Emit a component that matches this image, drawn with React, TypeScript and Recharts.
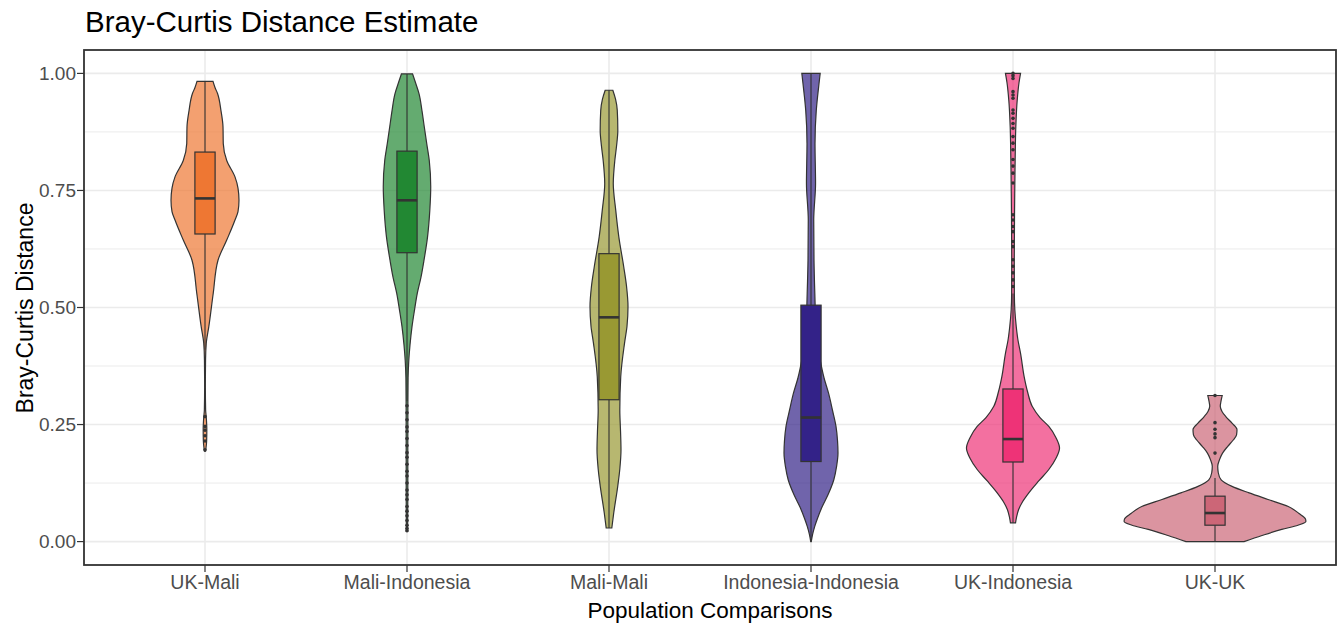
import React from "react";
import { ComposedChart, Bar, XAxis, YAxis, CartesianGrid, Curve } from "recharts";

const categories = [
  "UK-Mali",
  "Mali-Indonesia",
  "Mali-Mali",
  "Indonesia-Indonesia",
  "UK-Indonesia",
  "UK-UK",
];

const violinFill = ["#EE7733", "#228833", "#999933", "#332288", "#EE3377", "#CC6677"];
const boxFill = ["#EE7733", "#228833", "#999933", "#332288", "#EE3377", "#CC6677"];

// violin outlines: distance (top to bottom) and density relative to the widest violin
const ukMaliY = [0.983, 0.97, 0.957, 0.92, 0.886, 0.85, 0.814, 0.779, 0.755, 0.729, 0.705, 0.687, 0.644, 0.601, 0.531, 0.459, 0.424, 0.388, 0.33, 0.281, 0.265, 0.24, 0.215, 0.2, 0.193];
const ukMaliDensity = [0.088, 0.11, 0.138, 0.176, 0.198, 0.201, 0.239, 0.33, 0.363, 0.374, 0.363, 0.33, 0.239, 0.143, 0.091, 0.042, 0.014, 0.006, 0.004, 0.007, 0.014, 0.02, 0.018, 0.011, 0.006];

const maliIndonesiaY = [0.999, 0.98, 0.957, 0.92, 0.886, 0.85, 0.814, 0.758, 0.708, 0.651, 0.601, 0.565, 0.53, 0.495, 0.459, 0.42, 0.388, 0.35, 0.3, 0.2, 0.1, 0.022];
const maliIndonesiaDensity = [0.061, 0.094, 0.132, 0.165, 0.19, 0.217, 0.245, 0.261, 0.251, 0.226, 0.187, 0.154, 0.113, 0.083, 0.055, 0.033, 0.02, 0.012, 0.01, 0.009, 0.009, 0.007];

const maliMaliY = [0.964, 0.945, 0.921, 0.878, 0.845, 0.814, 0.765, 0.708, 0.651, 0.587, 0.545, 0.502, 0.46, 0.424, 0.352, 0.281, 0.235, 0.196, 0.155, 0.118, 0.061, 0.029];
const maliMaliDensity = [0.042, 0.072, 0.091, 0.097, 0.083, 0.064, 0.047, 0.074, 0.108, 0.162, 0.193, 0.209, 0.198, 0.171, 0.129, 0.119, 0.127, 0.132, 0.119, 0.096, 0.052, 0.031];

const indoIndoY = [1.0, 0.978, 0.95, 0.921, 0.85, 0.765, 0.687, 0.601, 0.53, 0.459, 0.42, 0.388, 0.35, 0.317, 0.28, 0.246, 0.215, 0.189, 0.16, 0.132, 0.1, 0.075, 0.05, 0.033, 0.015, 0.0];
const indoIndoDensity = [0.101, 0.088, 0.072, 0.058, 0.044, 0.05, 0.03, 0.033, 0.042, 0.055, 0.072, 0.101, 0.143, 0.193, 0.237, 0.275, 0.292, 0.297, 0.281, 0.251, 0.187, 0.124, 0.072, 0.042, 0.017, 0.003];

const ukIndonesiaY = [1.0, 0.98, 0.942, 0.886, 0.82, 0.744, 0.601, 0.53, 0.495, 0.459, 0.43, 0.402, 0.352, 0.32, 0.289, 0.265, 0.246, 0.222, 0.2, 0.178, 0.154, 0.13, 0.104, 0.085, 0.068, 0.052, 0.04];
const ukIndonesiaDensity = [0.083, 0.066, 0.046, 0.031, 0.024, 0.019, 0.014, 0.015, 0.02, 0.036, 0.055, 0.083, 0.123, 0.16, 0.211, 0.297, 0.394, 0.473, 0.512, 0.473, 0.394, 0.286, 0.174, 0.105, 0.061, 0.039, 0.028];

const ukUkY = [0.312, 0.3, 0.289, 0.278, 0.267, 0.253, 0.239, 0.228, 0.217, 0.203, 0.189, 0.175, 0.161, 0.147, 0.132, 0.118, 0.104, 0.09, 0.075, 0.06, 0.048, 0.043, 0.035, 0.026, 0.013, 0.0];
const ukUkDensity = [0.079, 0.066, 0.058, 0.077, 0.119, 0.187, 0.242, 0.237, 0.201, 0.138, 0.083, 0.05, 0.03, 0.036, 0.068, 0.187, 0.376, 0.583, 0.806, 0.924, 0.996, 1.0, 0.913, 0.734, 0.517, 0.319];

// box plot statistics, one per category
const q1 = [0.657, 0.617, 0.303, 0.171, 0.17, 0.035];
const medians = [0.733, 0.729, 0.479, 0.265, 0.219, 0.061];
const q3 = [0.832, 0.834, 0.615, 0.505, 0.326, 0.097];
const whiskerLow = [0.41, 0.3, 0.029, 0.0, 0.04, 0.0];
const whiskerHigh = [0.983, 0.999, 0.964, 1.0, 0.53, 0.136];

const ukMaliOutliers = [0.267, 0.246, 0.238, 0.226, 0.215, 0.196];
const maliIndonesiaOutliers = [0.29, 0.275, 0.26, 0.245, 0.235, 0.22, 0.205, 0.19, 0.18, 0.165, 0.15, 0.14, 0.125, 0.11, 0.1, 0.09, 0.075, 0.065, 0.055, 0.045, 0.035, 0.028, 0.023];
const maliMaliOutliers: number[] = [];
const indoIndoOutliers: number[] = [];
const ukIndonesiaOutliers = [1.0, 0.995, 0.989, 0.961, 0.954, 0.947, 0.922, 0.915, 0.904, 0.893, 0.883, 0.865, 0.851, 0.837, 0.816, 0.802, 0.787, 0.766, 0.698, 0.687, 0.673, 0.662, 0.641, 0.63, 0.602, 0.588, 0.574, 0.559, 0.545];
const ukUkOutliers = [0.312, 0.254, 0.24, 0.23, 0.222, 0.189];

const yTicks = [0, 0.25, 0.5, 0.75, 1];
const yMinorTicks = [0.125, 0.375, 0.625, 0.875];

const violinY = [ukMaliY, maliIndonesiaY, maliMaliY, indoIndoY, ukIndonesiaY, ukUkY];
const violinDensity = [ukMaliDensity, maliIndonesiaDensity, maliMaliDensity, indoIndoDensity, ukIndonesiaDensity, ukUkDensity];
const outliers = [ukMaliOutliers, maliIndonesiaOutliers, maliMaliOutliers, indoIndoOutliers, ukIndonesiaOutliers, ukUkOutliers];

const data = categories.map((name, i) => ({
  name,
  range: [Math.min(...violinY[i]), Math.max(...violinY[i])],
}));

const FONT = "'Liberation Sans', Arial, Helvetica, sans-serif";
const INK = "#333333";

// chart box
const W = 1338;
const H = 627;
const M = { top: 50, right: 2, bottom: 0, left: 0 };
const Y_AXIS_W = 84;
const X_AXIS_H = 62;

function renderViolin(props: any) {
  const { x, y, width, height } = props;
  let i = props.index;
  if (i == null) i = categories.indexOf(props.payload?.name);
  const vals = violinY[i];
  const dens = violinDensity[i];
  const vMax = Math.max(...vals);
  const vMin = Math.min(...vals);
  const top = Math.min(y, y + height);
  const span = Math.abs(height);
  const py = (v: number) => top + (span * (vMax - v)) / (vMax - vMin);
  const cx = x + width / 2;
  const maxHalf = width * 0.45;
  const boxHalf = width * 0.05;

  const right = vals.map((v, k) => ({ x: cx + dens[k] * maxHalf, y: py(v) }));
  const left = vals.map((v, k) => ({ x: cx - dens[k] * maxHalf, y: py(v) }));

  return (
    <g>
      <Curve
        layout="vertical"
        type="monotone"
        points={right}
        baseLine={left}
        fill={violinFill[i]}
        fillOpacity={0.7}
        stroke={INK}
        strokeWidth={1.2}
      />
      <line x1={cx} x2={cx} y1={py(whiskerHigh[i])} y2={py(q3[i])} stroke={INK} strokeWidth={1.1} />
      <line x1={cx} x2={cx} y1={py(q1[i])} y2={py(whiskerLow[i])} stroke={INK} strokeWidth={1.1} />
      <rect
        x={cx - boxHalf}
        y={py(q3[i])}
        width={boxHalf * 2}
        height={py(q1[i]) - py(q3[i])}
        fill={boxFill[i]}
        stroke={INK}
        strokeWidth={1.2}
      />
      <line x1={cx - boxHalf} x2={cx + boxHalf} y1={py(medians[i])} y2={py(medians[i])} stroke={INK} strokeWidth={2.6} />
      {outliers[i].map((v, k) => (
        <circle key={k} cx={cx} cy={py(v)} r={1.8} fill={INK} />
      ))}
    </g>
  );
}

export default function App() {
  const plotX = M.left + Y_AXIS_W;
  const plotY = M.top;
  const plotW = W - plotX - M.right;
  const plotH = H - M.top - M.bottom - X_AXIS_H;
  return (
    <div style={{ position: "absolute", left: 0, top: 0, width: W, height: H, background: "#fff" }}>
      <ComposedChart width={W} height={H} data={data} margin={M} barCategoryGap={0}>
        <CartesianGrid
          horizontal={true}
          vertical={false}
          horizontalValues={yMinorTicks}
          stroke="#EBEBEB"
          strokeWidth={1}
        />
        <CartesianGrid stroke="#EBEBEB" strokeWidth={1.6} />
        <XAxis
          dataKey="name"
          type="category"
          height={X_AXIS_H}
          padding={{ left: 20, right: 20 }}
          tickSize={7}
          tickMargin={3}
          tickLine={{ stroke: INK, strokeWidth: 1.2 }}
          axisLine={false}
          tick={{ fill: "#4D4D4D", fontSize: 19.5, fontFamily: FONT }}
          interval={0}
        />
        <YAxis
          type="number"
          domain={[-0.05, 1.05]}
          ticks={yTicks}
          width={Y_AXIS_W}
          tickSize={7}
          tickMargin={1}
          tickFormatter={(v: number) => v.toFixed(2)}
          tickLine={{ stroke: INK, strokeWidth: 1.2 }}
          axisLine={false}
          tick={{ fill: "#4D4D4D", fontSize: 19, fontFamily: FONT }}
          allowDataOverflow
        />
        <Bar dataKey="range" shape={renderViolin} isAnimationActive={false} fill="none" />
      </ComposedChart>
      <svg
        width={W}
        height={H}
        style={{ position: "absolute", left: 0, top: 0, pointerEvents: "none" }}
      >
        <rect x={plotX} y={plotY} width={plotW} height={plotH} fill="none" stroke={INK} strokeWidth={1.8} />
        <text x={85} y={32} fontSize={29.5} fontFamily={FONT} fill="#000">
          Bray-Curtis Distance Estimate
        </text>
        <text x={710} y={618} fontSize={22.5} fontFamily={FONT} fill="#000" textAnchor="middle">
          Population Comparisons
        </text>
        <text
          x={0}
          y={0}
          fontSize={23}
          fontFamily={FONT}
          fill="#000"
          textAnchor="middle"
          transform="translate(33,308) rotate(-90)"
        >
          Bray-Curtis Distance
        </text>
      </svg>
    </div>
  );
}
